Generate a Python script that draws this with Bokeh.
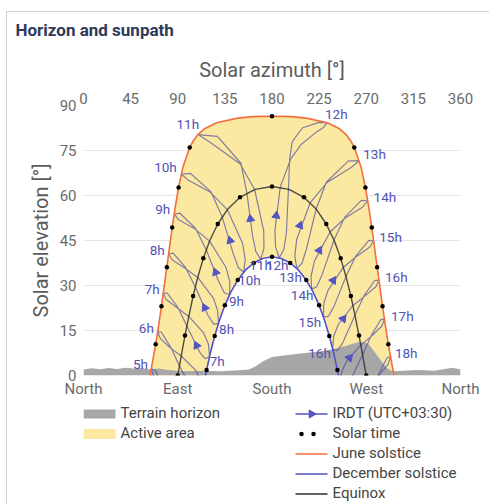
import math
from bokeh.plotting import figure
from bokeh.models import Range1d, LinearAxis, FixedTicker, Grid
from bokeh.layouts import column
from bokeh.embed import file_html
from bokeh.resources import INLINE
from bokeh.core.properties import value

# ---------------- data (azimuth deg, elevation deg) ----------------
azimuth_ticks = [0, 45, 90, 135, 180, 225, 270, 315, 360]
compass_ticks = [0, 90, 180, 270, 360]
compass_labels = ["North", "East", "South", "West", "North"]
elevation_ticks = [0, 15, 30, 45, 60, 75, 90]

june_az = [63.5, 66.4, 68.9, 71.75, 74.45, 77.0, 79.6, 82.1, 84.7, 87.55, 90.8, 94.9, 101.4,
           104.7, 109.3, 116.05, 127.1, 147.1, 162.1, 180.0, 197.9, 212.9, 232.9, 243.95,
           250.7, 255.3, 258.6, 265.1, 269.2, 272.45, 275.3, 277.9, 280.4, 283.0, 285.55,
           288.25, 291.1, 293.6, 296.5]
june_el = [0.0, 5.5, 10.4, 16.7, 23.1, 29.6, 36.1, 42.7, 49.3, 56.0, 62.7, 69.4, 76.0,
           78.15, 80.3, 82.35, 84.27, 85.8, 86.3, 86.44, 86.3, 85.8, 84.27, 82.35,
           80.3, 78.15, 76.0, 69.4, 62.7, 56.0, 49.3, 42.7, 36.1, 29.6, 23.1,
           16.7, 10.4, 5.5, 0.0]

dec_az = [116.5, 117.55, 121.2, 125.3, 129.9, 135.0, 140.8, 147.3, 154.6, 162.6, 171.1, 180.0,
          188.9, 197.4, 205.4, 212.7, 219.2, 225.0, 230.1, 234.7, 238.8, 242.45, 243.5]
dec_el = [0.0, 1.8, 7.6, 13.2, 18.5, 23.4, 27.9, 31.8, 35.1, 37.5, 39.0, 39.56,
          39.0, 37.5, 35.1, 31.8, 27.9, 23.4, 18.5, 13.2, 7.6, 1.8, 0.0]

equinox_az = [90.0, 93.4, 96.9, 100.65, 104.7, 109.2, 114.4, 120.6, 128.2, 137.6, 149.45, 163.8, 180.0,
              196.2, 210.55, 222.4, 231.8, 239.4, 245.6, 250.8, 255.3, 259.35, 263.1, 266.6, 270.0]
equinox_el = [0.0, 6.7, 13.3, 19.9, 26.5, 32.85, 39.05, 45.0, 50.5, 55.4, 59.4, 62.05, 63.0,
              62.05, 59.4, 55.4, 50.5, 45.0, 39.05, 32.85, 26.5, 19.9, 13.3, 6.7, 0.0]

june_dot_az = [68.9, 74.45, 79.6, 84.7, 90.8, 101.4, 180.0, 258.6, 269.2, 275.3, 280.4, 285.55, 291.1]
june_dot_el = [10.4, 23.1, 36.1, 49.3, 62.7, 76.0, 86.44, 76.0, 62.7, 49.3, 36.1, 23.1, 10.4]
equinox_dot_az = [90.0, 96.9, 104.7, 114.4, 128.2, 149.45, 180.0, 210.55, 231.8, 245.6, 255.3, 263.1, 270.0]
equinox_dot_el = [0.0, 13.3, 26.5, 39.05, 50.5, 59.4, 63.0, 59.4, 50.5, 39.05, 26.5, 13.3, 0.0]
dec_dot_az = [117.55, 125.3, 135.0, 147.3, 162.6, 180.0, 197.4, 212.7, 225.0, 234.7, 242.45]
dec_dot_el = [1.8, 13.2, 23.4, 31.8, 37.5, 39.56, 37.5, 31.8, 23.4, 13.2, 1.8]

terrain_az = [0, 8, 16, 24, 32, 40, 48, 56, 64, 72, 80, 90, 100, 115, 130, 145, 158, 165, 172, 180,
              195, 210, 225, 240, 250, 258, 263, 268, 272, 278, 284, 290, 295, 305, 320, 335, 345, 352, 360]
terrain_el = [2.0, 2.4, 2.1, 2.5, 2.2, 2.6, 2.3, 2.5, 2.0, 2.3, 1.8, 1.6, 1.4, 1.6, 1.4, 1.7, 2.0, 3.2, 4.8, 6.2,
              6.8, 7.4, 8.0, 8.8, 9.8, 10.7, 11.1, 11.0, 10.6, 7.8, 5.0, 2.4, 1.4, 1.6, 1.8, 1.6, 2.2, 2.6, 2.0]

# hourly (IRDT clock time) analemma loops: June -> autumn -> December -> spring -> June
analemma_hours = [5, 6, 7, 8, 9, 10, 11, 12, 13, 14, 15, 16, 17, 18]
analemma_az = [
    [64.7, 66.9, 76.6, 86.5, 100.7, 105.7, 107.7, 103.3, 97.5, 84.8, 76.7, 68.0, 64.7],
    [70.8, 73.2, 83.3, 93.3, 107.2, 112.0, 113.5, 109.3, 103.8, 91.6, 83.5, 74.2, 70.8],
    [76.2, 79.0, 90.0, 100.5, 114.7, 119.25, 120.4, 116.05, 110.75, 98.7, 90.1, 79.9, 76.2],
    [81.3, 84.6, 97.3, 109.1, 124.0, 128.2, 128.8, 124.3, 119.0, 106.8, 97.4, 85.6, 81.3],
    [86.6, 90.9, 106.6, 120.4, 136.0, 139.7, 139.5, 134.6, 129.4, 117.2, 106.9, 92.1, 86.6],
    [93.4, 99.8, 121.2, 137.3, 151.95, 154.4, 153.0, 147.9, 143.3, 132.4, 121.6, 101.9, 93.4],
    [109.3, 120.5, 149.5, 163.4, 172.1, 172.3, 169.25, 164.6, 161.4, 156.0, 150.3, 127.9, 109.3],
    [232.9, 224.0, 208.9, 199.3, 196.9, 195.7, 193.75, 191.3, 187.0, 183.45, 182.8, 187.85, 197.9,
     208.1, 222.6, 228.8, 232.9],
    [263.3, 253.1, 232.0, 222.1, 212.85, 208.6, 203.7, 201.8, 203.6, 216.5, 232.5, 255.9, 263.3],
    [271.4, 265.3, 249.6, 239.2, 227.65, 222.7, 217.85, 217.3, 220.6, 235.6, 249.9, 266.7, 271.4],
    [277.0, 272.5, 260.1, 250.65, 238.8, 233.65, 229.1, 229.4, 233.5, 248.2, 260.3, 273.5, 277.0],
    [282.1, 278.3, 267.9, 259.2, 247.45, 242.2, 237.9, 238.9, 243.3, 257.3, 268.0, 279.2, 282.1],
    [287.3, 283.9, 274.6, 266.5, 254.6, 249.3, 245.1, 246.5, 251.1, 264.8, 274.7, 284.9, 287.3],
    [293.15, 289.9, 281.2, 273.3, 261.1, 255.4, 251.1, 252.9, 257.8, 271.6, 281.4, 291.0, 293.15],
]
analemma_el = [
    [2.2, -0.2, -4.1, -6.9, -11.3, -14.2, -18.1, -19.6, -18.0, -10.2, -3.8, 1.9, 2.2],
    [14.6, 12.4, 9.1, 6.5, 1.7, -1.55, -5.55, -6.7, -4.9, 3.2, 9.3, 14.5, 14.6],
    [27.4, 25.35, 22.4, 19.7, 14.2, 10.5, 6.36, 5.6, 7.9, 16.5, 22.7, 27.5, 27.4],
    [40.5, 38.6, 35.7, 32.7, 25.8, 21.6, 17.4, 17.15, 20.0, 29.5, 36.0, 40.8, 40.5],
    [53.8, 51.9, 48.8, 44.8, 36.1, 31.3, 27.0, 27.5, 31.1, 41.9, 49.1, 54.1, 53.8],
    [67.1, 65.2, 61.05, 55.3, 44.0, 38.6, 34.4, 35.9, 40.3, 52.9, 61.3, 67.4, 67.1],
    [80.3, 77.85, 70.6, 62.0, 48.2, 42.4, 38.8, 41.3, 46.6, 60.85, 70.75, 79.7, 80.3],
    [84.27, 84.27, 82.5, 77.9, 72.3, 62.1, 47.5, 42.0, 39.24, 42.7, 48.45, 62.8, 72.2,
     77.1, 81.2, 82.6, 84.27],
    [71.6, 71.55, 64.5, 55.5, 42.1, 37.4, 35.7, 39.8, 45.4, 57.6, 64.3, 69.4, 71.6],
    [58.25, 58.4, 52.8, 45.15, 33.45, 29.6, 28.8, 33.15, 38.2, 47.9, 52.5, 56.2, 58.25],
    [44.9, 45.05, 39.9, 33.0, 22.7, 19.6, 19.6, 23.95, 28.4, 36.1, 39.6, 42.85, 44.9],
    [31.7, 31.75, 26.6, 20.1, 10.8, 8.3, 8.8, 13.1, 17.0, 23.35, 26.3, 29.6, 31.7],
    [18.8, 18.65, 13.2, 6.9, -1.8, -3.9, -2.9, 1.2, 4.7, 10.2, 13.0, 16.5, 18.8],
    [6.3, 5.9, 0.0, -6.5, -14.9, -16.65, -15.3, -11.3, -8.2, -3.2, -0.3, 3.8, 6.3],
]

arrow_hours = [7, 8, 9, 10, 11, 12, 13, 14, 15, 16, 17]
arrow_az = [108.0, 115.9, 126.2, 140.0, 159.4, 184.0, 206.6, 225.2, 238.5, 248.0, 254.0]
arrow_el = [10.0, 22.6, 34.4, 45.0, 52.2, 53.3, 50.0, 41.7, 31.7, 18.9, 5.9]

june_label_text = ["5h", "6h", "7h", "8h", "9h", "10h", "11h", "12h", "13h", "14h", "15h", "16h", "17h", "18h"]
june_label_az = [54.4, 60.0, 65.6, 70.4, 75.7, 78.3, 99.6, 241.4, 277.9, 287.8, 293.2, 298.7, 304.4, 308.2]
june_label_el = [4.0, 15.8, 28.9, 42.0, 55.6, 69.4, 83.9, 87.2, 73.9, 59.4, 46.1, 32.8, 20.0, 7.6]

dec_label_text = ["7h", "8h", "9h", "10h", "11h", "12h", "13h", "14h", "15h", "16h"]
dec_label_az = [127.7, 136.6, 146.1, 158.5, 169.1, 185.0, 197.7, 208.8, 216.1, 225.4]
dec_label_el = [5.0, 15.6, 25.0, 31.9, 36.7, 36.7, 32.8, 26.7, 17.8, 7.4]

legend_left = ["Terrain horizon", "Active area"]
legend_right = ["IRDT (UTC+03:30)", "Solar time", "June solstice", "December solstice", "Equinox"]

# ---------------- styles / layout ----------------
FONT = "Roboto"
YELLOW = "#fbe9a2"
TERRAIN = "#a7a7a7"
ANA = "#4c4a9e"
ARROW = "#5454c4"
BLUE = "#5050c8"
ORANGE = "#f26e3c"
EQX = "#2f2f2f"
LABEL = "#5252b2"
CARD = "#cfcfcf"

PAGE_X0, PAGE_Y0 = 6, 0           # canvas origin on the page
FRAME_L, FRAME_T = 83, 105        # frame position on the page
FW, FH = 377, 270
TOTAL_W = 489 - PAGE_X0
MAIN_H = 398 - PAGE_Y0
LEG_H = 504 - 398

p = figure(frame_width=FW, frame_height=FH, x_range=Range1d(0, 360), y_range=Range1d(0, 90),
           x_axis_type=None, y_axis_type=None, output_backend="svg", toolbar_location=None,
           min_border_left=FRAME_L - PAGE_X0, min_border_right=TOTAL_W - (FRAME_L - PAGE_X0) - FW,
           min_border_top=FRAME_T - PAGE_Y0, min_border_bottom=MAIN_H - (FRAME_T - PAGE_Y0) - FH,
           title="Horizon and sunpath")
p.outline_line_color = None
p.border_fill_color = None
p.title.text_font = FONT
p.title.text_font_size = "17px"
p.title.text_font_style = "bold"
p.title.text_color = "#2d3a58"
p.title.align = "left"
p.title.offset = 15 - FRAME_L
p.title.standoff = 29


def style_axis(ax):
    ax.axis_line_color = None
    ax.major_tick_line_color = None
    ax.minor_tick_line_color = None
    ax.major_tick_out = 0
    ax.major_tick_in = 0
    ax.major_label_text_font = FONT
    ax.major_label_text_font_size = "15px"
    ax.major_label_text_color = "#6a6a6a"
    ax.axis_label_text_font = FONT
    ax.axis_label_text_font_size = "20px"
    ax.axis_label_text_font_style = "normal"
    ax.axis_label_text_color = "#5c5c5c"


top_axis = LinearAxis(ticker=FixedTicker(ticks=azimuth_ticks), axis_label="Solar azimuth [°]")
style_axis(top_axis)
top_axis.major_label_standoff = 2
top_axis.axis_label_standoff = 8
p.add_layout(top_axis, "above")

bottom_axis = LinearAxis(ticker=FixedTicker(ticks=compass_ticks),
                         major_label_overrides={t: s for t, s in zip(compass_ticks, compass_labels)})
style_axis(bottom_axis)
bottom_axis.major_label_standoff = 4
p.add_layout(bottom_axis, "below")

left_axis = LinearAxis(ticker=FixedTicker(ticks=elevation_ticks), axis_label="Solar elevation [°]")
style_axis(left_axis)
left_axis.major_label_standoff = 7
left_axis.axis_label_standoff = 4
p.add_layout(left_axis, "left")

p.add_layout(Grid(dimension=1, ticker=left_axis.ticker, grid_line_color="#e4e4e4", grid_line_width=1))

# active area between June and December solstice paths
p.patch(june_az + dec_az[::-1], june_el + dec_el[::-1], fill_color=YELLOW, line_color=None)
# terrain horizon
p.varea(x=terrain_az, y1=[0] * len(terrain_az), y2=terrain_el, fill_color=TERRAIN)
# analemmas
p.multi_line(xs=analemma_az, ys=analemma_el, line_color=ANA, line_alpha=0.68, line_width=1.2)
# day paths
p.line(dec_az, dec_el, line_color=BLUE, line_width=1.6)
p.line(equinox_az, equinox_el, line_color=EQX, line_alpha=0.85, line_width=1.4)
p.line(june_az, june_el, line_color=ORANGE, line_width=1.6)
# solar time dots
p.scatter(june_dot_az + equinox_dot_az + dec_dot_az, june_dot_el + equinox_dot_el + dec_dot_el,
          size=4.5, fill_color="black", line_color=None)

# arrows along the spring branch of each analemma
sx, sy = FW / 360.0, FH / 90.0
arrow_angle = []
for h, ax_, ay_ in zip(arrow_hours, arrow_az, arrow_el):
    i = analemma_hours.index(h)
    xs, ys = analemma_az[i], analemma_el[i]
    k0 = ys.index(min(ys))
    best = None
    for k in range(k0, len(xs) - 1):
        x0, y0, x1, y1 = xs[k] * sx, ys[k] * sy, xs[k + 1] * sx, ys[k + 1] * sy
        px, py = ax_ * sx, ay_ * sy
        dx, dy = x1 - x0, y1 - y0
        t = max(0.0, min(1.0, ((px - x0) * dx + (py - y0) * dy) / (dx * dx + dy * dy)))
        d = math.hypot(x0 + t * dx - px, y0 + t * dy - py)
        if best is None or d < best[0]:
            best = (d, dx, dy)
    arrow_angle.append(math.atan2(-best[1], best[2]))
p.scatter(arrow_az, arrow_el, marker="triangle", size=8, angle=arrow_angle,
          fill_color=ARROW, line_color=ARROW)

# hour labels
p.text(june_label_az, june_label_el, text=june_label_text, text_align="center", text_baseline="middle",
       text_font=value(FONT), text_font_size="13.5px", text_color=LABEL)
p.text(dec_label_az, dec_label_el, text=dec_label_text, text_align="center", text_baseline="middle",
       text_font=value(FONT), text_font_size="13.5px", text_color=LABEL)

# ---------------- legend panel (data units = page pixels) ----------------
lg = figure(frame_width=FW, height=LEG_H, x_range=Range1d(FRAME_L, FRAME_L + FW), y_range=Range1d(504, 398),
            x_axis_type=None, y_axis_type=None, output_backend="svg", toolbar_location=None,
            min_border_left=FRAME_L - PAGE_X0, min_border_right=TOTAL_W - (FRAME_L - PAGE_X0) - FW,
            min_border_top=0, min_border_bottom=0)
lg.outline_line_color = None
lg.border_fill_color = None
row0, step = 410, 20
rows_l = [row0 + step * i for i in range(len(legend_left))]
rows_r = [row0 + step * i for i in range(len(legend_right))]
gx0, gw = 83, 32
rx0 = 295
lg.rect([gx0 + gw / 2] * 2, [r + 1.5 for r in rows_l], width=gw, height=[9, 10],
        fill_color=[TERRAIN, YELLOW], line_color=None)
lg.text([gx0 + gw + 5] * 2, rows_l, text=legend_left, text_align="left", text_baseline="middle",
        text_font=value(FONT), text_font_size="15px", text_color="#454545")
lg.line([rx0, rx0 + gw], [rows_r[0] + 1.5] * 2, line_color=ARROW, line_width=1.4)
lg.scatter([rx0 + gw / 2], [rows_r[0] + 1.5], marker="triangle", size=8, angle=-math.pi / 2,
           fill_color=ARROW, line_color=ARROW)
lg.scatter([rx0 + 6, rx0 + 18], [rows_r[1] + 1.5] * 2, size=4.5, fill_color="black", line_color=None)
lg.line([rx0, rx0 + gw], [rows_r[2] + 1.5] * 2, line_color=ORANGE, line_width=1.4)
lg.line([rx0, rx0 + gw], [rows_r[3] + 1.5] * 2, line_color=BLUE, line_width=1.4)
lg.line([rx0, rx0 + gw], [rows_r[4] + 1.5] * 2, line_color=EQX, line_width=1.4)
lg.text([rx0 + gw + 5] * len(legend_right), rows_r, text=legend_right, text_align="left",
        text_baseline="middle", text_font=value(FONT), text_font_size="15px", text_color="#454545")

# card outline (top and left edge) drawn as the container background behind transparent borders
card_bg = (f"linear-gradient({CARD}, {CARD}) 0px 11px / 100% 1px no-repeat, "
           f"linear-gradient({CARD}, {CARD}) 0px 11px / 1px 100% no-repeat, #ffffff")
layout = column(p, lg, styles={"margin-left": f"{PAGE_X0}px", "background": card_bg})
open("out.html", "w").write(file_html(layout, INLINE))
